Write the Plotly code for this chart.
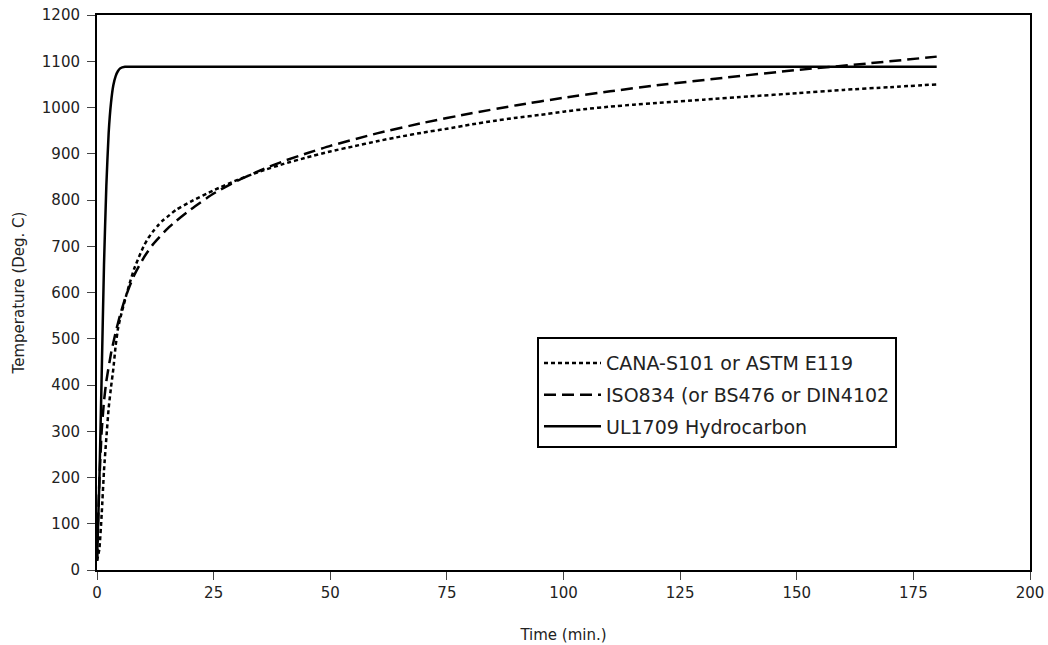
import plotly.graph_objects as go

# CANA-S101 / ASTM E119 (time min, temp C)
astm_t = [0, 0.5, 1, 1.5, 2, 2.5, 3, 3.5, 4, 4.5, 5, 6, 7, 8, 9, 10, 11, 12, 13, 14, 15, 17, 20, 25,
          30, 35, 40, 45, 50, 55, 60, 65, 70, 75, 80, 85, 90, 95, 100, 105, 110, 115, 120, 130,
          140, 150, 160, 170, 180]
astm_v = [20, 45, 120, 215, 285, 350, 395, 435, 485, 522, 545, 584, 620, 652, 677, 700, 718, 732,
          744, 755, 763, 779, 796, 821, 843, 862, 878, 892, 905, 916, 927, 937, 946, 954, 963, 971,
          978, 984, 991, 997, 1002, 1006, 1010, 1017, 1024, 1031, 1038, 1044, 1050]

# ISO834 (or BS476 or DIN4102)
iso_t = [0, 0.5, 1, 1.5, 2, 3, 4, 5, 6, 7, 8, 10, 12, 15, 17, 20, 25, 30, 35, 40, 45, 50, 60, 70,
         80, 90, 100, 110, 120, 135, 150, 165, 180]
iso_v = [20, 190, 300, 365, 408, 468, 514, 553, 586, 614, 638, 675, 704, 737, 755, 779, 814, 841,
         864, 884, 901, 917, 944, 967, 987, 1005, 1021, 1035, 1048, 1065, 1081, 1095, 1110]

# UL1709 Hydrocarbon
ul_t = [0, 0.5, 1, 1.5, 2, 2.5, 3, 3.5, 4, 4.5, 5, 6, 10, 180]
ul_v = [20, 190, 420, 660, 830, 945, 1010, 1048, 1068, 1079, 1085, 1088, 1088, 1088]

names = ["CANA-S101 or ASTM E119", "ISO834 (or BS476 or DIN4102", "UL1709 Hydrocarbon"]

x_ticks = [0, 25, 50, 75, 100, 125, 150, 175, 200]
y_ticks = list(range(0, 1201, 100))

FONT = "DejaVu Sans"
TXT = "#222"

fig = go.Figure()
fig.add_trace(go.Scatter(x=astm_t, y=astm_v, mode="lines", name=names[0], legendgroup="a",
                         line=dict(color="black", width=2.5, dash="4px,3px", shape="spline", smoothing=0.5)))
fig.add_trace(go.Scatter(x=iso_t, y=iso_v, mode="lines", name=names[1], legendgroup="b",
                         line=dict(color="black", width=2.5, dash="12px,6px", shape="spline", smoothing=0.5)))
fig.add_trace(go.Scatter(x=ul_t, y=ul_v, mode="lines", name=names[2], legendgroup="c",
                         line=dict(color="black", width=2.5, shape="spline", smoothing=0.5)))

fig.update_layout(
    width=1048, height=645,
    margin=dict(l=97, r=18, t=15, b=75, autoexpand=False),
    paper_bgcolor="white", plot_bgcolor="white",
    font=dict(family=FONT, color=TXT, size=15),
    showlegend=True,
    legend=dict(x=0.4716, y=0.42, xanchor="left", yanchor="top",
                bordercolor="black", borderwidth=2, bgcolor="white",
                font=dict(family=FONT, size=19, color=TXT),
                title=dict(text=" ", font=dict(size=4)),
                traceorder="grouped", tracegroupgap=4, itemwidth=57),
    xaxis=dict(range=[0, 200], tickvals=x_ticks, ticktext=[str(v) for v in x_ticks],
               automargin=False,
               showgrid=False, zeroline=False, showline=True, linecolor="black", linewidth=2,
               mirror=True, ticks="outside", ticklen=8, tickcolor="#444", tickwidth=1,
               tickfont=dict(size=15, color=TXT),
               title=dict(text="Time (min.)", font=dict(size=15, color=TXT), standoff=28)),
    yaxis=dict(range=[0, 1200], tickvals=y_ticks, ticktext=[str(v) for v in y_ticks],
               automargin=False, ticklabelstandoff=4,
               showgrid=False, zeroline=False, showline=True, linecolor="black", linewidth=2,
               mirror=True, ticks="outside", ticklen=8, tickcolor="#444", tickwidth=1,
               tickfont=dict(size=15, color=TXT),
               title=dict(text="Temperature (Deg. C)", font=dict(size=15, color=TXT), standoff=14)),
)

fig.write_html("out.html", config={"displayModeBar": False},
               post_script="document.body.style.margin='0';document.body.style.overflow='hidden';")
